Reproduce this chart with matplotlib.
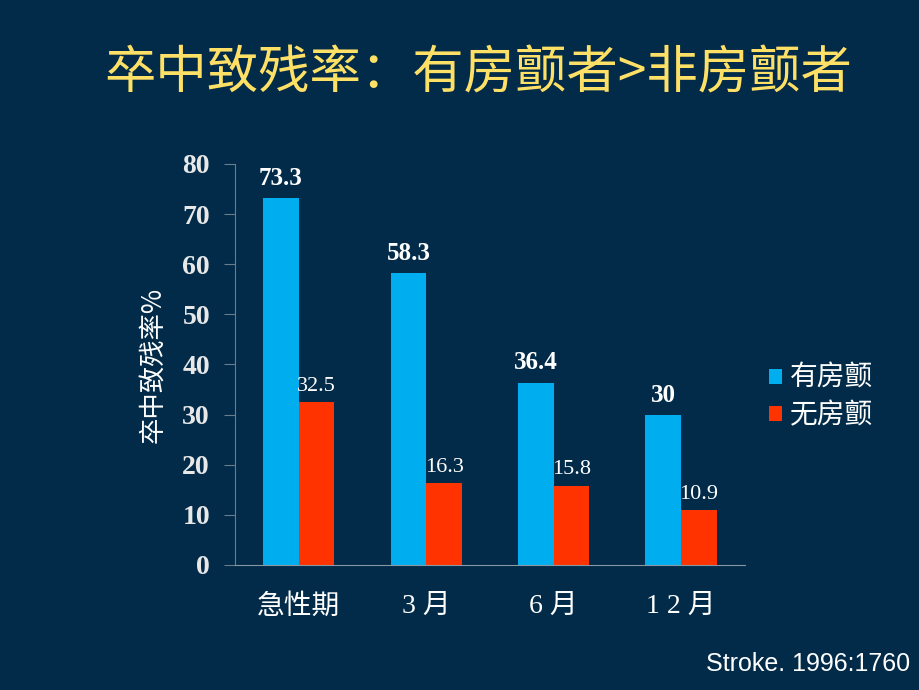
import numpy as np
import matplotlib.pyplot as plt

# data
categories = ['急性期', '3 月', '6 月', '1 2 月']
af_vals = [73.3, 58.3, 36.4, 30]      # 有房颤
no_af_vals = [32.5, 16.3, 15.8, 10.9]  # 无房颤
series_names = ['有房颤', '无房颤']
yticks = [0, 10, 20, 30, 40, 50, 60, 70, 80]

bg = '#012b49'
blue = '#00aeef'
red = '#ff3300'
cjk = ['Noto Sans CJK SC', 'DejaVu Sans']
mixed = ['Liberation Serif', 'Noto Sans CJK SC']

fig = plt.figure(figsize=(9.2, 6.9), dpi=100, facecolor=bg)
ax = fig.add_axes([0.2554, 0.1812, 0.5543, 0.5812], facecolor=bg)

x = np.arange(len(categories))
w = 0.28
ax.bar(x - w / 2, af_vals, w, color=blue, label=series_names[0])
ax.bar(x + w / 2, no_af_vals, w, color=red, label=series_names[1])

for xi, v in zip(x, af_vals):
    ax.text(xi - w / 2, v + 1.6, f'{v:g}', ha='center', va='bottom',
            color='white', fontsize=18, fontweight='bold', family='Liberation Serif')
for xi, v in zip(x, no_af_vals):
    ax.text(xi + w / 2, v + 1.3, f'{v:g}', ha='center', va='bottom',
            color='white', fontsize=16, family='Liberation Serif')

ax.set_xlim(-0.5, 3.5)
ax.set_ylim(0, 80)
ax.set_yticks(yticks)
ax.set_yticklabels([str(t) for t in yticks], family='Liberation Serif',
                   fontweight='bold', fontsize=20, color='#e8e8e8')
ax.set_xticks(x)
ax.set_xticklabels(categories, family=mixed, fontsize=20, color='white')
ax.tick_params(axis='y', length=8, color='#6a7d8c', pad=10)
ax.tick_params(axis='x', length=0, pad=21)

for s in ['top', 'right']:
    ax.spines[s].set_visible(False)
ax.spines['left'].set_color('#6a7d8c')
ax.spines['bottom'].set_color('#8a98a4')

ax.set_ylabel('卒中致残率%', family=cjk, fontsize=19, color='white', labelpad=12)

ax.legend(loc='center left', bbox_to_anchor=(0.998, 0.42), frameon=False,
          prop={'family': cjk, 'size': 20}, labelcolor='white',
          handlelength=0.46, handleheight=0.46, handletextpad=0.3,
          labelspacing=0.25)

fig.text(0.52, 0.893, '卒中致残率：有房颤者>非房颤者', family=cjk, fontsize=37,
         color='#ffe066', ha='center', va='center')
fig.text(0.989, 0.038, 'Stroke. 1996:1760', family='Liberation Sans', fontsize=18,
         color='white', ha='right', va='center')

fig.savefig('out.png', dpi=100, facecolor=bg)
